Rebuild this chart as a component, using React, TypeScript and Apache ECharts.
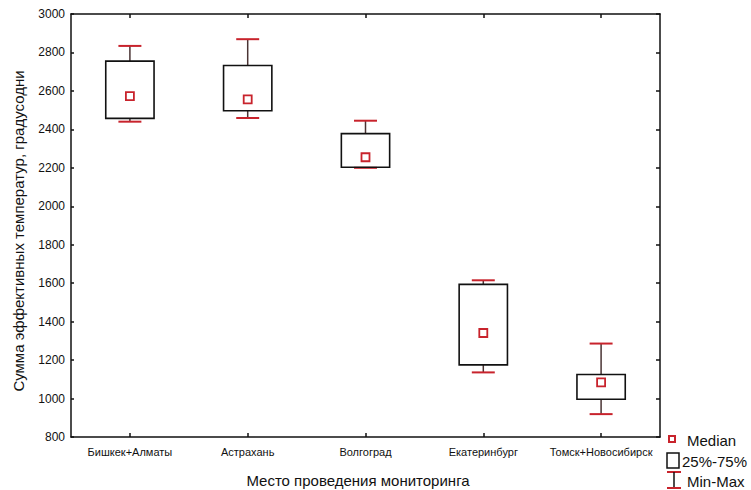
import React, { useEffect, useRef } from "react";
import * as echarts from "echarts";

const categories = ["Бишкек+Алматы", "Астрахань", "Волгоград", "Екатеринбург", "Томск+Новосибирск"];
const minValues = [2440, 2459, 2200, 1136, 919];
const q1Values = [2457, 2497, 2203, 1175, 996];
const medianValues = [2573, 2556, 2255, 1341, 1084];
const q3Values = [2755, 2732, 2378, 1594, 1125];
const maxValues = [2834, 2869, 2445, 1615, 1286];
const yTicks = { min: 800, max: 3000, interval: 200 };

const RED = "#c8232c";
const WHISK = "#4a3434";

export default function App() {
  const ref = useRef<HTMLDivElement>(null);
  useEffect(() => {
    if (!ref.current) return;
    const chart = echarts.init(ref.current, undefined, { renderer: "svg" });
    const data = categories.map((_, i) => [i, minValues[i], q1Values[i], medianValues[i], q3Values[i], maxValues[i]]);
    const font = "Arial, 'Liberation Sans', sans-serif";
    const narrow = "'Liberation Sans Narrow', 'Arial Narrow', Arial, sans-serif";
    const axisCommon = {
      axisLine: { show: true, lineStyle: { color: "#111", width: 1.5 } },
      splitLine: { show: false },
    };
    chart.setOption({
      animation: false,
      backgroundColor: "#fff",
      grid: { left: 71, top: 14, right: 91, bottom: 53, outerBoundsMode: "none", containLabel: false },
      xAxis: [
        {
          type: "category",
          data: categories,
          boundaryGap: true,
          ...axisCommon,
          axisTick: { show: true, inside: true, alignWithLabel: true, interval: 0, length: 4, lineStyle: { color: "#111", width: 1.5 } },
          axisLabel: { color: "#111", fontSize: 11, fontFamily: narrow, margin: 9, interval: 0 },
        },
        {
          type: "category",
          data: categories,
          position: "top",
          boundaryGap: true,
          ...axisCommon,
          axisTick: { show: true, inside: true, alignWithLabel: true, interval: 0, length: 4, lineStyle: { color: "#111", width: 1.5 } },
          axisLabel: { show: false },
        },
      ],
      yAxis: [
        {
          type: "value",
          min: yTicks.min,
          max: yTicks.max,
          interval: yTicks.interval,
          ...axisCommon,
          axisTick: { show: true, inside: true, length: 3, lineStyle: { color: "#111", width: 1.5 } },
          axisLabel: { color: "#111", fontSize: 12, fontFamily: font, margin: 6, formatter: (v: number) => String(v) },
        },
        {
          type: "value",
          position: "right",
          min: yTicks.min,
          max: yTicks.max,
          interval: yTicks.interval,
          ...axisCommon,
          axisTick: { show: true, inside: true, length: 4, lineStyle: { color: "#111", width: 1.5 } },
          axisLabel: { show: false },
        },
      ],
      series: [
        {
          type: "custom",
          xAxisIndex: 0,
          yAxisIndex: 0,
          data,
          encode: { x: 0, y: [1, 2, 3, 4, 5] },
          renderItem: (params: any, api: any) => {
            const idx = api.value(0);
            const band = api.size([1, 0])[0];
            const boxW = band * 0.41;
            const capW = band * 0.195;
            const pMin = api.coord([idx, api.value(1)]);
            const pQ1 = api.coord([idx, api.value(2)]);
            const pMed = api.coord([idx, api.value(3)]);
            const pQ3 = api.coord([idx, api.value(4)]);
            const pMax = api.coord([idx, api.value(5)]);
            const cx = pMed[0];
            const children: any[] = [];
            if (pQ3[1] - pMax[1] > 0.5)
              children.push({ type: "line", shape: { x1: cx, y1: pMax[1], x2: cx, y2: pQ3[1] }, style: { stroke: WHISK, lineWidth: 1.5 } });
            if (pMin[1] - pQ1[1] > 0.5)
              children.push({ type: "line", shape: { x1: cx, y1: pQ1[1], x2: cx, y2: pMin[1] }, style: { stroke: WHISK, lineWidth: 1.5 } });
            children.push({ type: "line", shape: { x1: cx - capW / 2, y1: pMax[1], x2: cx + capW / 2, y2: pMax[1] }, style: { stroke: RED, lineWidth: 2 } });
            children.push({ type: "line", shape: { x1: cx - capW / 2, y1: pMin[1], x2: cx + capW / 2, y2: pMin[1] }, style: { stroke: RED, lineWidth: 2 } });
            children.push({
              type: "rect",
              shape: { x: cx - boxW / 2, y: pQ3[1], width: boxW, height: pQ1[1] - pQ3[1] },
              style: { fill: "none", stroke: "#111", lineWidth: 1.6 },
            });
            children.push({
              type: "rect",
              shape: { x: cx - 4, y: pMed[1] - 4, width: 8, height: 8 },
              style: { fill: "#fff", stroke: RED, lineWidth: 1.8 },
            });
            return { type: "group", children };
          },
        },
      ],
      graphic: [
        {
          type: "text",
          x: 18,
          y: 231,
          rotation: Math.PI / 2,
          style: {
            text: "Сумма эффективных температур, градусодни",
            fill: "#111",
            font: `15px ${font}`,
            align: "center",
            verticalAlign: "middle",
          },
        },
        {
          type: "text",
          x: 358,
          y: 480,
          style: {
            text: "Место проведения мониторинга",
            fill: "#111",
            font: `15px ${font}`,
            align: "center",
            verticalAlign: "middle",
          },
        },
        { type: "rect", shape: { x: 669, y: 436, width: 6, height: 6 }, style: { fill: "#fff", stroke: RED, lineWidth: 2 } },
        { type: "text", x: 687, y: 440, style: { text: "Median", fill: "#111", font: `15px ${font}`, verticalAlign: "middle" } },
        { type: "rect", shape: { x: 667, y: 453, width: 12, height: 15 }, style: { fill: "none", stroke: "#111", lineWidth: 1.5 } },
        { type: "text", x: 682, y: 461, style: { text: "25%-75%", fill: "#111", font: `15px ${font}`, verticalAlign: "middle" } },
        { type: "line", shape: { x1: 667, y1: 472, x2: 681, y2: 472 }, style: { stroke: RED, lineWidth: 2 } },
        { type: "line", shape: { x1: 674, y1: 472, x2: 674, y2: 488 }, style: { stroke: "#111", lineWidth: 1.5 } },
        { type: "line", shape: { x1: 667, y1: 488, x2: 681, y2: 488 }, style: { stroke: RED, lineWidth: 2 } },
        { type: "text", x: 687, y: 481, style: { text: "Min-Max", fill: "#111", font: `15px ${font}`, verticalAlign: "middle" } },
      ],
    });
    return () => chart.dispose();
  }, []);
  return <div ref={ref} style={{ width: 751, height: 490, position: "fixed", left: 0, top: 0 }} />;
}
